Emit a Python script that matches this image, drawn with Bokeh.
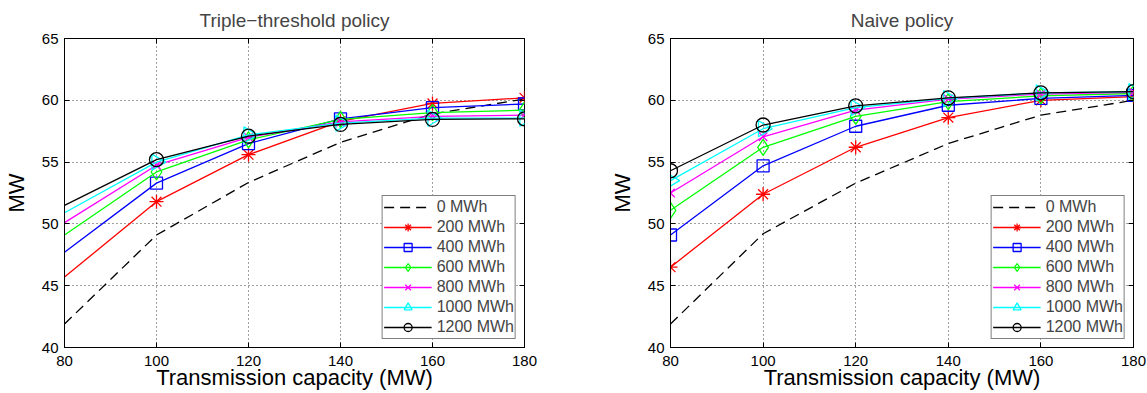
import numpy as np
from bokeh.plotting import figure
from bokeh.layouts import row
from bokeh.models import Range1d, LinearAxis, FixedTicker, Legend, LegendItem
from bokeh.embed import file_html
from bokeh.resources import INLINE

capacity = [80, 100, 120, 140, 160, 180]
x_ticks = [80, 100, 120, 140, 160, 180]
y_ticks = [40, 45, 50, 55, 60, 65]
storage_labels = ["0 MWh", "200 MWh", "400 MWh", "600 MWh", "800 MWh", "1000 MWh", "1200 MWh"]

# Triple-threshold policy
triple_0 = [41.9, 49.1, 53.35, 56.6, 58.9, 60.1]
triple_200 = [45.7, 51.8, 55.6, 58.3, 59.75, 60.2]
triple_400 = [47.7, 53.3, 56.5, 58.5, 59.4, 59.7]
triple_600 = [49.1, 54.2, 56.8, 58.45, 59.0, 59.2]
triple_800 = [50.1, 54.75, 57.0, 58.25, 58.7, 58.8]
triple_1000 = [50.9, 55.0, 57.2, 58.15, 58.55, 58.55]
triple_1200 = [51.5, 55.2, 57.1, 58.05, 58.45, 58.5]

# Naive policy
naive_0 = [41.9, 49.2, 53.3, 56.5, 58.8, 60.0]
naive_200 = [46.5, 52.4, 56.2, 58.6, 60.0, 60.3]
naive_400 = [49.1, 54.7, 57.9, 59.6, 60.15, 60.4]
naive_600 = [51.1, 56.2, 58.7, 59.9, 60.35, 60.55]
naive_800 = [52.5, 57.05, 59.2, 60.1, 60.5, 60.65]
naive_1000 = [53.5, 57.7, 59.4, 60.15, 60.6, 60.7]
naive_1200 = [54.3, 58.0, 59.55, 60.2, 60.6, 60.7]

triple_series = [triple_0, triple_200, triple_400, triple_600, triple_800, triple_1000, triple_1200]
naive_series = [naive_0, naive_200, naive_400, naive_600, naive_800, naive_1000, naive_1200]

colors = ["black", "#FF0000", "#0000FF", "#00FF00", "#FF00FF", "#00FFFF", "black"]
markers = [None, "asterisk", "square", "diamond", "x", "triangle", "circle"]
msizes = [0, 14, 12, 16, 12, 16, 14]
FONT = "Liberation Sans"


def make_panel(title, series, width, bl, br, marker_start):
    p = figure(width=width, height=393, output_backend="svg", toolbar_location=None,
               x_range=Range1d(80, 180), y_range=Range1d(40, 65),
               min_border_left=bl, min_border_right=br, min_border_top=38, min_border_bottom=46,
               title=title)
    p.title.text_font = FONT
    p.title.text_font_size = "19px"
    p.title.text_font_style = "normal"
    p.title.align = "center"
    p.title.vertical_align = "top"
    p.title.standoff = 12
    p.outline_line_color = "black"
    p.outline_line_alpha = 1
    p.outline_line_width = 1
    p.background_fill_color = "white"
    p.border_fill_color = "white"

    for ax in p.xaxis:
        ax.ticker = FixedTicker(ticks=x_ticks)
        ax.axis_label = "Transmission capacity (MW)"
    for ax in p.yaxis:
        ax.ticker = FixedTicker(ticks=y_ticks)
        ax.axis_label = "MW"
    for ax in list(p.xaxis) + list(p.yaxis):
        ax.major_tick_in = 5
        ax.major_tick_out = 0
        ax.minor_tick_line_color = None
        ax.axis_line_color = "black"
        ax.major_tick_line_color = "black"
        ax.major_label_text_font = FONT
        ax.major_label_text_font_size = "15px"
        ax.major_label_text_color = "black"
        ax.axis_label_text_font = FONT
        ax.axis_label_text_font_size = "22px"
        ax.axis_label_text_font_style = "normal"
        ax.axis_label_text_color = "black"
    p.xaxis.major_label_standoff = 8
    p.xaxis.axis_label_standoff = -4
    p.yaxis.major_label_standoff = 6
    p.yaxis.axis_label_standoff = 10

    # mirror axes (ticks only) on top and right
    top = LinearAxis(ticker=FixedTicker(ticks=x_ticks), major_label_text_font_size="1px",
                     major_label_text_color=None,
                     major_tick_in=5, major_tick_out=0, minor_tick_line_color=None,
                     major_label_standoff=0, axis_line_color=None)
    right = LinearAxis(ticker=FixedTicker(ticks=y_ticks), major_label_text_font_size="1px",
                       major_label_text_color=None,
                       major_tick_in=5, major_tick_out=0, minor_tick_line_color=None,
                       major_label_standoff=0, axis_line_color=None)
    p.add_layout(top, "above")
    p.add_layout(right, "right")

    p.xgrid.ticker = FixedTicker(ticks=x_ticks)
    p.ygrid.ticker = FixedTicker(ticks=y_ticks)
    for g in (p.xgrid, p.ygrid):
        g.grid_line_color = "black"
        g.grid_line_alpha = 0.75
        g.grid_line_dash = "1 3"
        g.grid_line_width = 1

    items = []
    for i, (ys, lab) in enumerate(zip(series, storage_labels)):
        if markers[i] is None:
            lr = p.line(capacity, ys, line_color=colors[i], line_width=1.3, line_dash="10 6")
            items.append(LegendItem(label=lab, renderers=[lr]))
        else:
            lr = p.line(capacity, ys, line_color=colors[i], line_width=1.3)
            kw = {}
            if markers[i] == "triangle":
                kw["angle"] = -np.pi / 2
            sr = p.scatter(capacity[marker_start:], ys[marker_start:], marker=markers[i],
                           size=msizes[i], fill_color=None, line_color=colors[i],
                           line_width=1.3, **kw)
            items.append(LegendItem(label=lab, renderers=[lr, sr]))

    leg = Legend(items=items, location="bottom_right")
    leg.label_text_font = FONT
    leg.label_text_font_size = "16px"
    leg.glyph_width = 48
    leg.glyph_height = 20
    leg.label_height = 20
    leg.spacing = 0
    leg.padding = 1
    leg.margin = 8
    leg.label_standoff = 5
    leg.border_line_color = "black"
    leg.border_line_width = 1
    leg.background_fill_alpha = 1
    p.add_layout(leg)
    return p


p1 = make_panel("Triple\u2212threshold policy", triple_series, 573, 62, 49, 1)
p2 = make_panel("Naive policy", naive_series, 574, 97, 14, 0)

layout = row(p1, p2)
open("out.html", "w").write(file_html(layout, INLINE))
